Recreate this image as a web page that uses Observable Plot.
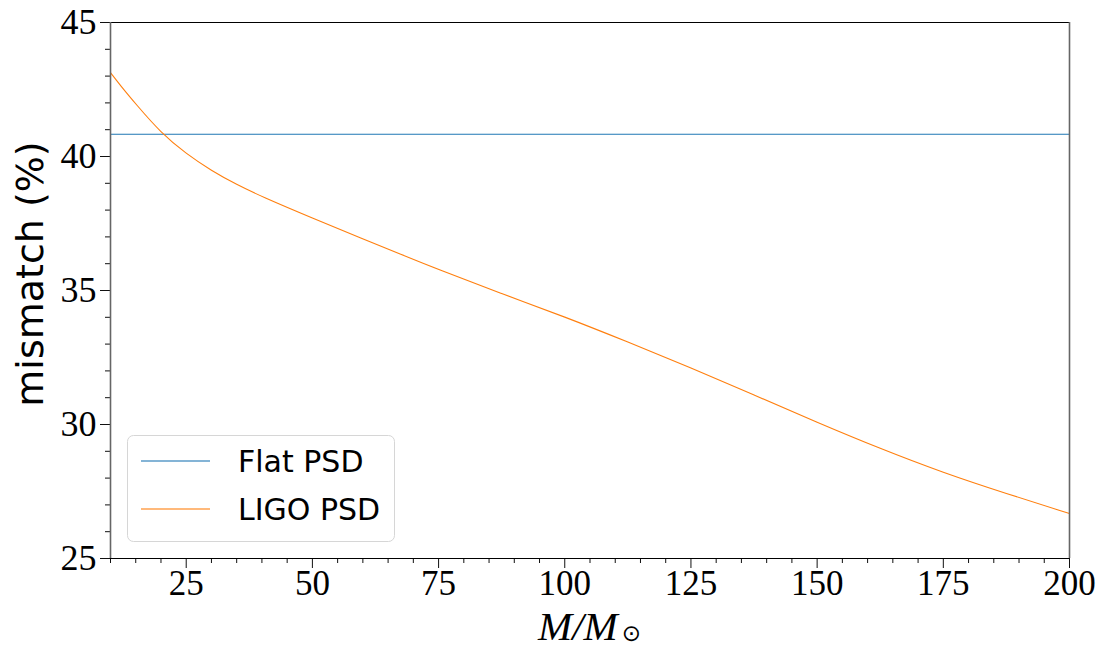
<!DOCTYPE html>
<html>
<head>
<meta charset="utf-8">
<script src="https://cdn.jsdelivr.net/npm/d3@7"></script>
<script src="https://cdn.jsdelivr.net/npm/@observablehq/plot@0.6"></script>
<style>
  html, body { margin: 0; padding: 0; background: #fff; }
  #chart { position: relative; width: 1103px; height: 648px; }
</style>
</head>
<body>
<div id="chart"></div>
<script>
// ---- data ----
const seriesNames = ["Flat PSD", "LIGO PSD"];
const seriesColors = ["#1f77b4", "#ff7f0e"];
const masses = [10, 12, 15, 20, 25, 30, 35, 40, 50, 60, 67.5, 75, 87.5, 100, 112.5, 125, 137.5, 150, 162.5, 175, 187.5, 200];
const flatMismatch = [40.83, 40.83, 40.83, 40.83, 40.83, 40.83, 40.83, 40.83, 40.83, 40.83, 40.83, 40.83, 40.83, 40.83, 40.83, 40.83, 40.83, 40.83, 40.83, 40.83, 40.83, 40.83];
const ligoMismatch = [43.13, 42.64, 41.96, 40.88, 40.1, 39.47, 38.95, 38.5, 37.7, 36.93, 36.35, 35.78, 34.88, 34.02, 33.08, 32.12, 31.1, 30.08, 29.1, 28.2, 27.42, 26.68];
const xMajorTicks = [25, 50, 75, 100, 125, 150, 175, 200];
const xMinorTicks = [10, 15, 20, 30, 35, 40, 45, 55, 60, 65, 70, 80, 85, 90, 95, 105, 110, 115, 120, 130, 135, 140, 145, 155, 160, 165, 170, 180, 185, 190, 195];
const yMajorTicks = [25, 30, 35, 40, 45];
const yMinorTicks = [26, 27, 28, 29, 31, 32, 33, 34, 36, 37, 38, 39, 41, 42, 43, 44];
const xDomain = [10, 200];
const yDomain = [25, 45];

const rows = [];
masses.forEach((m, i) => {
  rows.push({series: seriesNames[0], m, v: flatMismatch[i]});
  rows.push({series: seriesNames[1], m, v: ligoMismatch[i]});
});

const W = 1103, H = 648;
const mL = 110, mR = 34, mT = 22, mB = 90;

const svg = Plot.plot({
  width: W, height: H,
  marginLeft: mL, marginRight: mR, marginTop: mT, marginBottom: mB,
  style: {fontFamily: "'Liberation Serif', serif", fontSize: "36px", color: "#111", background: "#fff", overflow: "visible"},
  x: {domain: xDomain, label: null},
  y: {domain: yDomain, label: null},
  color: {domain: seriesNames, range: seriesColors},
  marks: [
    Plot.axisX({ticks: xMajorTicks, tickSize: 10, tickPadding: 2, tickFormat: d => String(d), label: null, fontSize: 35, fill: "#000"}),
    Plot.axisX({ticks: xMinorTicks, tickSize: 5, label: null, fill: "none"}),
    Plot.axisY({ticks: yMajorTicks, tickSize: 10, tickPadding: 4, tickFormat: d => String(d), label: null, fontSize: 36, fill: "#000"}),
    Plot.axisY({ticks: yMinorTicks, tickSize: 5, label: null, fill: "none"}),
    Plot.line(rows, {x: "m", y: "v", z: "series", stroke: "series", strokeWidth: 1.1, curve: "basis"}),
    Plot.ruleY(yDomain, {stroke: "#000", strokeWidth: 1.2}),
    Plot.ruleX(xDomain, {stroke: "#666", strokeWidth: 1.6})
  ]
});

document.getElementById("chart").appendChild(svg);
const s = d3.select(svg);

// x label: M/M_sun (main part + subscript as two adjacent texts)
const xMain = s.append("text")
  .attr("y", 640)
  .attr("text-anchor", "start")
  .attr("font-family", "'Liberation Serif', serif")
  .attr("font-style", "italic")
  .attr("font-size", 41)
  .attr("fill", "#000")
  .text("M/M");
const xSub = s.append("text")
  .attr("y", 641)
  .attr("text-anchor", "start")
  .attr("font-family", "'DejaVu Sans', sans-serif")
  .attr("font-size", 23)
  .attr("fill", "#000")
  .text("⊙");
const wMain = xMain.node().getComputedTextLength();
const wSub = xSub.node().getComputedTextLength();
const gap = 4;
const x0 = (mL + (W - mR)) / 2 - (wMain + gap + wSub) / 2;
xMain.attr("x", x0);
xSub.attr("x", x0 + wMain + gap);

// y label
s.append("text")
  .attr("transform", `translate(43, 274) rotate(-90)`)
  .attr("text-anchor", "middle")
  .attr("font-family", "'DejaVu Sans', sans-serif")
  .attr("font-size", 38)
  .attr("fill", "#000")
  .text("mismatch (%)");

// legend
const lg = s.append("g");
lg.append("rect")
  .attr("x", 127.5).attr("y", 435.5).attr("width", 267).attr("height", 106)
  .attr("rx", 6).attr("fill", "rgba(255,255,255,0.8)")
  .attr("stroke", "#d6d6d6").attr("stroke-width", 1);
const rowY = [461, 509];
seriesNames.forEach((name, i) => {
  lg.append("line")
    .attr("x1", 141).attr("x2", 210).attr("y1", rowY[i]).attr("y2", rowY[i])
    .attr("stroke", seriesColors[i]).attr("stroke-width", 2).attr("stroke-opacity", 0.55);
  lg.append("text")
    .attr("x", 238).attr("y", rowY[i] + 11)
    .attr("text-anchor", "start")
    .attr("font-family", "'DejaVu Sans', sans-serif")
    .attr("font-size", 30)
    .attr("fill", "#000")
    .text(name);
});
</script>
</body>
</html>
